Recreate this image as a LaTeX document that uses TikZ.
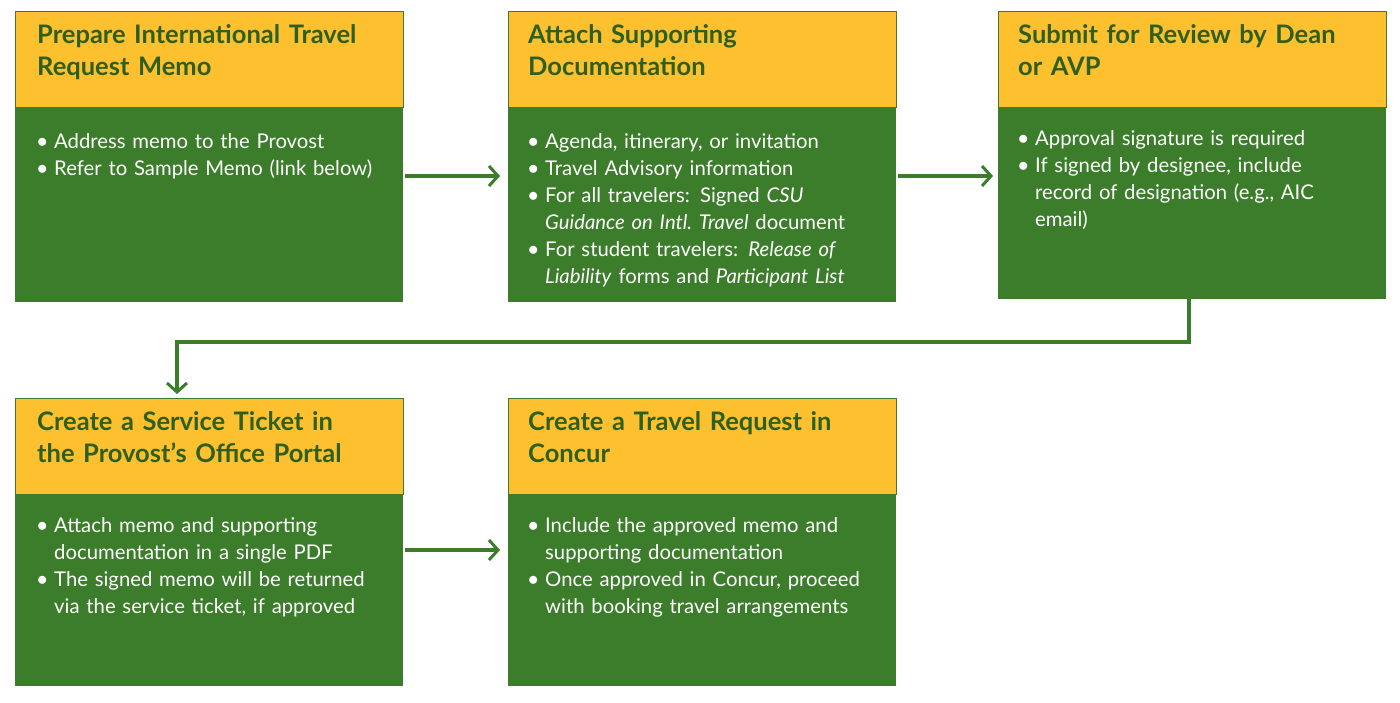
\documentclass[tikz,border=0pt]{standalone}
\usepackage{fontspec}
\setmainfont{Lato}
\definecolor{hdr}{HTML}{FDC02F}
\definecolor{grn}{HTML}{3B7D2A}
\definecolor{dkg}{HTML}{2F5F1C}
\newcommand{\bul}[1]{\par\hyphenpenalty=10000\exhyphenpenalty=10000\hangindent=17pt\hangafter=1\noindent\makebox[17pt][l]{\raisebox{0.5pt}{$\bullet$}}#1}
\tikzset{
  hbox/.style={fill=hdr,draw=grn,line width=0.6pt},
  htext/.style={anchor=north west,text width=360pt,align=left,inner sep=0pt,text=dkg,font=\fontsize{25.5}{32}\selectfont\bfseries},
  btext/.style={anchor=north west,text width=345pt,align=left,inner sep=0pt,text=white,font=\fontsize{20.3}{27}\selectfont},
  arr/.style={draw=grn,line width=3.5pt,-{Straight Barb[length=9pt,width=20pt,line width=3pt]}},
}
\usetikzlibrary{arrows.meta}
\begin{document}
\begin{tikzpicture}[x=1pt,y=-1pt]
\useasboundingbox (0,0) rectangle (1400,702);
% boxes
\foreach \n/\x/\y/\b in {a/15/11/302,b/508/11/302,c/998/11/299,d/15/398/686,e/508/398/686}{
  \fill[grn] (\x,\y) rectangle ++(388,\b-\y) ;
  \draw[hbox] (\x,\y) rectangle ++(388,96);
  \coordinate (\n) at (\x,\y);
}
\node[htext] (ha) at (37,24) {Prepare International Travel\\Request Memo};
\node[htext] (hb) at (528,24) {Attach Supporting\\Documentation};
\node[htext] (hc) at (1018,24) {Submit for Review by Dean\\or AVP};
\node[htext] (hd) at (37,411) {Create a Service Ticket in\\the Provost’s Office Portal};
\node[htext] (he) at (528,411) {Create a Travel Request in\\Concur};
\node[btext] (ta) at (37,121) {\bul{Address memo to the Provost}\bul{Refer to Sample Memo (link below)}\par};
\node[btext] (tb) at (528,121) {\bul{Agenda, itinerary, or invitation}\bul{Travel Advisory information}\bul{For all travelers: Signed \emph{CSU Guidance on Intl.~Travel} document}\bul{For student travelers: \emph{Release of Liability} forms and \emph{Participant List}}\par};
\node[btext,text width=320pt] (tc) at (1018,118) {\bul{Approval signature is required}\bul{If signed by designee, include record of designation (e.g., AIC email)}\par};
\node[btext,text width=340pt] (td) at (37,505) {\bul{Attach memo and supporting documentation in a single PDF}\bul{The signed memo will be returned via the service ticket, if approved}\par};
\node[btext] (te) at (528,505) {\bul{Include the approved memo and supporting documentation}\bul{Once approved in Concur, proceed with booking travel arrangements}\par};
\coordinate (a1) at (405,176); \coordinate (b0) at (500,176);
\coordinate (b1) at (898,176); \coordinate (c0) at (993,176);
\coordinate (d1) at (405,550); \coordinate (e0) at (500,550);
\coordinate (c2) at (1189,299); \coordinate (d0) at (177,394);
\draw[arr] (a1) -- (b0);
\draw[arr] (b1) -- (c0);
\draw[arr] (d1) -- (e0);
\draw[arr] (c2) -- (c2 |- 0,342) -- (d0 |- 0,342) -- (d0);
\end{tikzpicture}
\end{document}
